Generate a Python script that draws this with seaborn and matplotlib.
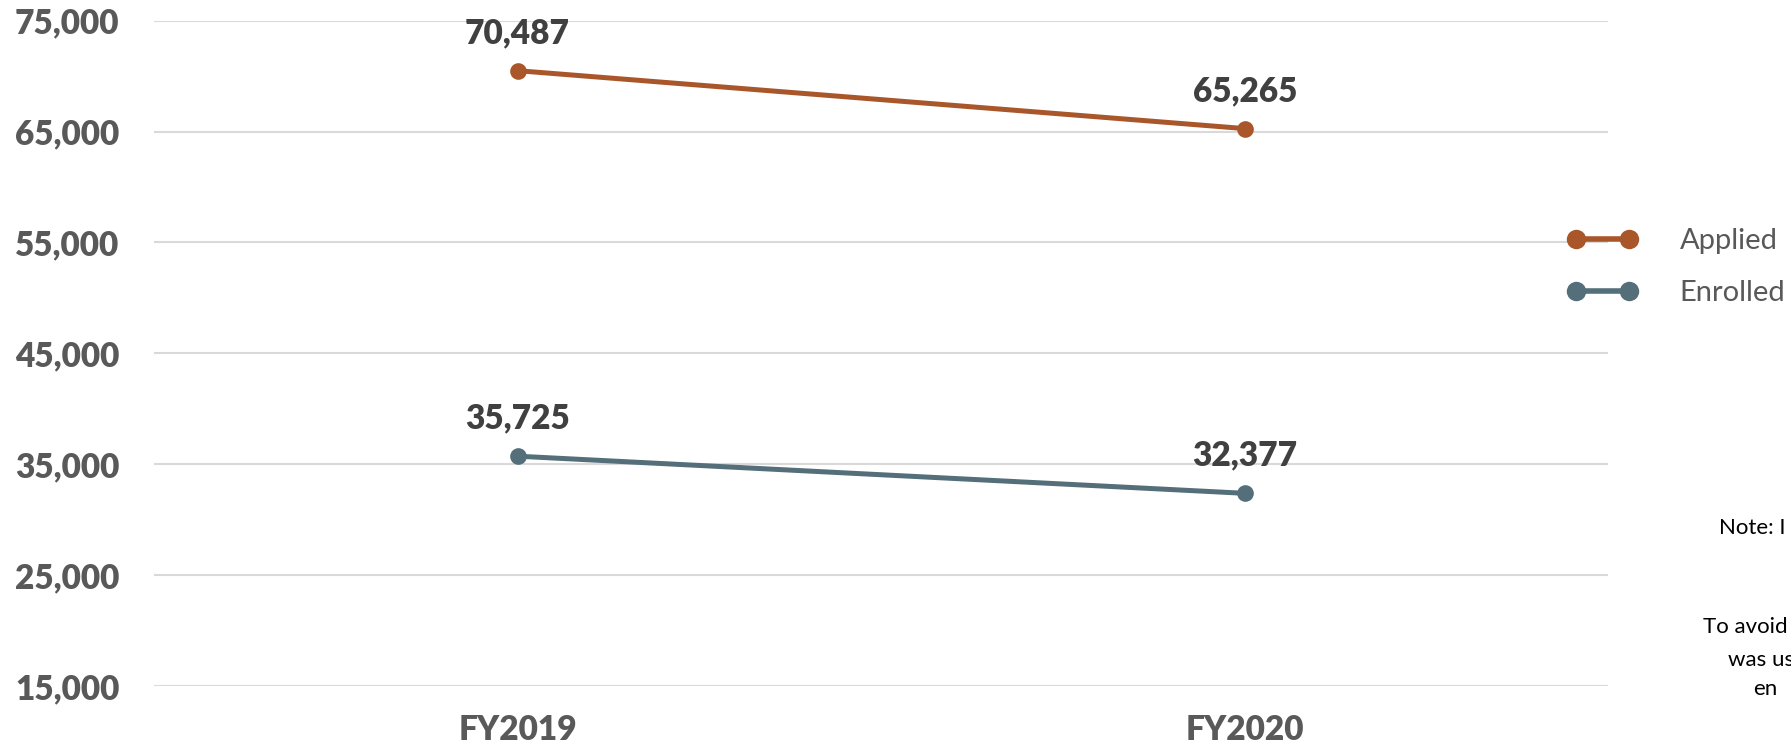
import pandas as pd
import matplotlib.pyplot as plt
import seaborn as sns

# Chart data
years = ['FY2019', 'FY2020']
applied = [70487, 65265]
enrolled = [35725, 32377]
series_names = ['Applied', 'Enrolled']
y_ticks = [15000, 25000, 35000, 45000, 55000, 65000, 75000]
# the note runs off the right edge in the original, only these parts show
note_lines = ['Note: I', 'To avoid', 'was us', 'en']

colors = {'Applied': '#A9572A', 'Enrolled': '#546E7A'}

df = pd.DataFrame({
    'year': years * 2,
    'count': applied + enrolled,
    'series': [series_names[0]] * len(years) + [series_names[1]] * len(years),
})

sns.set_style('white')
plt.rcParams['font.family'] = ['Lato', 'DejaVu Sans']

fig = plt.figure(figsize=(17.91, 7.5), dpi=100)
ax = fig.add_axes([0.086, 0.0853, 0.812, 0.8872])

sns.lineplot(data=df, x='year', y='count', hue='series', palette=colors,
             marker='o', markersize=12, linewidth=3.6, markeredgewidth=0,
             ax=ax, legend=False, sort=False)

# data labels above each point
for vals in (applied, enrolled):
    for i, v in enumerate(vals):
        ax.annotate(f'{v:,}', (i, v), xytext=(0, 27), textcoords='offset points',
                    ha='center', va='center', fontsize=24, fontweight='heavy',
                    color='#404040')

ax.set_xlim(-0.5, 1.5)
ax.set_ylim(15000, 75000)
ax.set_yticks(y_ticks)
ax.set_yticklabels([f'{t:,}' for t in y_ticks])
ax.yaxis.grid(True, color='#D9D9D9', linewidth=1.5)
ax.xaxis.grid(False)
for s in ax.spines.values():
    s.set_visible(False)
ax.tick_params(axis='y', length=0, pad=25, labelsize=24, labelcolor='#595959')
ax.tick_params(axis='x', length=0, pad=20, labelsize=24, labelcolor='#595959')
for lbl in ax.get_xticklabels() + ax.get_yticklabels():
    lbl.set_fontweight('heavy')
ax.set_xlabel('')
ax.set_ylabel('')

# legend on the right
handles = [plt.Line2D([], [], color=colors[n], marker='o', markersize=14,
                      linewidth=4, markeredgewidth=0) for n in series_names]
leg = fig.legend(handles, series_names, loc='center left',
                 bbox_to_anchor=(0.867, 0.644), frameon=False, numpoints=2,
                 handlelength=2.4, handletextpad=1.45, labelspacing=0.9,
                 borderpad=0, fontsize=21)
for t in leg.get_texts():
    t.set_color('#595959')

note_pos = [(0.960, 0.296), (0.951, 0.164), (0.965, 0.120), (0.979, 0.081)]
for (x, y), line in zip(note_pos, note_lines):
    fig.text(x, y, line, ha='left', va='center', fontsize=16, color='#000000')

fig.savefig('out.png', dpi=100)
